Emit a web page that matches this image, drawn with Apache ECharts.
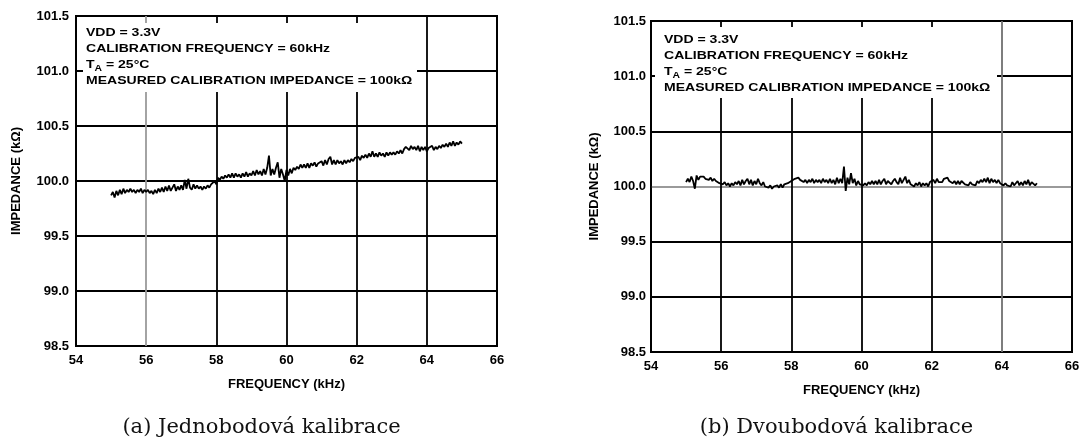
<!DOCTYPE html>
<html>
<head>
<meta charset="utf-8">
<script src="https://cdn.jsdelivr.net/npm/echarts@6/dist/echarts.min.js"></script>
<style>
html,body{margin:0;padding:0;background:#fff;}
#chart{width:1084px;height:442px;}
</style>
</head>
<body>
<div id="chart"></div>
<script>
// ---- data ----
const freqStart = 55.0;
const freqStep = 0.05;
const xTicks = [54, 56, 58, 60, 62, 64, 66];
const yTicks = [98.5, 99.0, 99.5, 100.0, 100.5, 101.0, 101.5];
// (a) single-point calibration
const leftValues = [
  99.87, 99.90, 99.85, 99.91, 99.87, 99.92, 99.88, 99.93, 99.89, 99.92, 99.90, 99.93, 99.90, 99.92, 99.89, 99.92, 99.90, 99.93, 99.89, 99.92,
  99.90, 99.92, 99.89, 99.91, 99.88, 99.92, 99.89, 99.93, 99.90, 99.94, 99.90, 99.95, 99.91, 99.96, 99.91, 99.94, 99.97, 99.91, 99.95, 99.92,
  99.96, 99.92, 100.01, 99.93, 100.02, 99.94, 99.92, 99.97, 99.93, 99.96, 99.93, 99.95, 99.92, 99.95, 99.93, 99.96, 99.94, 99.97, 99.96, 100.00,
  99.97, 100.03, 100.01, 100.04, 100.02, 100.05, 100.03, 100.06, 100.03, 100.07, 100.03, 100.07, 100.04, 100.06, 100.03, 100.07, 100.04, 100.08, 100.04, 100.07,
  100.05, 100.09, 100.05, 100.10, 100.06, 100.09, 100.05, 100.11, 100.06, 100.12, 100.23, 100.05, 100.11, 100.06, 100.12, 100.17, 100.03, 100.11, 100.06, 100.00,
  100.10, 100.05, 100.11, 100.07, 100.12, 100.10, 100.13, 100.11, 100.15, 100.12, 100.15, 100.12, 100.16, 100.12, 100.16, 100.14, 100.17, 100.13, 100.16, 100.15,
  100.18, 100.14, 100.19, 100.15, 100.20, 100.22, 100.15, 100.19, 100.15, 100.19, 100.16, 100.18, 100.15, 100.19, 100.16, 100.19, 100.17, 100.20, 100.18, 100.21,
  100.20, 100.22, 100.19, 100.23, 100.21, 100.24, 100.21, 100.25, 100.22, 100.27, 100.22, 100.25, 100.22, 100.26, 100.23, 100.25, 100.22, 100.26, 100.23, 100.26,
  100.24, 100.26, 100.24, 100.27, 100.25, 100.28, 100.25, 100.29, 100.31, 100.32, 100.28, 100.32, 100.29, 100.31, 100.28, 100.32, 100.27, 100.31, 100.28, 100.31,
  100.27, 100.30, 100.29, 100.32, 100.28, 100.31, 100.29, 100.32, 100.30, 100.33, 100.31, 100.34, 100.31, 100.35, 100.32, 100.36, 100.32, 100.35, 100.33, 100.36,
  100.34
];
// (b) two-point calibration
const rightValues = [
  100.04, 100.07, 100.04, 100.09, 100.05, 99.98, 100.10, 100.06, 100.09, 100.08, 100.09, 100.07, 100.08, 100.06, 100.08, 100.05, 100.07, 100.05, 100.06, 100.03,
  100.04, 100.02, 100.04, 100.01, 100.03, 100.00, 100.03, 100.01, 100.04, 100.02, 100.05, 100.01, 100.06, 100.02, 100.05, 100.07, 100.02, 100.06, 100.01, 100.05,
  100.02, 100.07, 100.03, 100.01, 100.04, 100.00, 100.01, 99.99, 100.01, 99.98, 100.00, 99.99, 100.01, 99.99, 100.02, 99.99, 100.02, 100.01, 100.03, 100.02,
  100.05, 100.04, 100.07, 100.06, 100.08, 100.06, 100.07, 100.04, 100.06, 100.03, 100.06, 100.04, 100.07, 100.03, 100.06, 100.04, 100.06, 100.03, 100.07, 100.04,
  100.06, 100.03, 100.07, 100.03, 100.06, 100.02, 100.08, 100.03, 100.07, 100.03, 100.18, 99.96, 100.08, 100.02, 100.12, 100.03, 100.07, 100.01, 100.05, 100.02,
  100.03, 100.01, 100.03, 100.01, 100.04, 100.02, 100.05, 100.02, 100.05, 100.02, 100.06, 100.02, 100.05, 100.07, 100.02, 100.05, 100.06, 100.02, 100.05, 100.07,
  100.04, 100.02, 100.08, 100.03, 100.06, 100.09, 100.03, 100.06, 100.02, 100.02, 100.00, 100.03, 100.01, 100.04, 100.00, 100.03, 100.01, 100.03, 100.00, 100.04,
  100.03, 100.06, 100.03, 100.07, 100.04, 100.05, 100.04, 100.07, 100.06, 100.08, 100.05, 100.06, 100.03, 100.05, 100.02, 100.05, 100.02, 100.05, 100.04, 100.02,
  100.03, 100.01, 100.04, 100.02, 100.03, 100.01, 100.05, 100.03, 100.06, 100.04, 100.07, 100.04, 100.08, 100.03, 100.07, 100.04, 100.06, 100.03, 100.06, 100.03,
  100.04, 100.01, 100.03, 100.01, 100.02, 100.00, 100.04, 100.01, 100.03, 100.05, 100.01, 100.04, 100.01, 100.05, 100.02, 100.06, 100.01, 100.04, 100.05, 100.01,
  100.03
];
const xTitle = 'FREQUENCY (kHz)';
const yTitle = 'IMPEDANCE (kΩ)';
const noteLines = ['VDD = 3.3V', 'CALIBRATION FREQUENCY = 60kHz', '{n|T}{s|A}{n| = 25°C}', 'MEASURED CALIBRATION IMPEDANCE = 100kΩ'];
const captions = ['(a) Jednobodová kalibrace', '(b) Dvoubodová kalibrace'];

// ---- build ----
const toPairs = vals => vals.map((v, i) => [+(freqStart + i * freqStep).toFixed(2), v]);
const FONT = 'Liberation Sans, Arial, sans-serif';
const labelStyle = { fontFamily: FONT, fontWeight: 'bold', fontSize: 13, color: '#000' };

function xAxisFor(gi, splitColors) {
  return {
    gridIndex: gi, type: 'value', min: xTicks[0], max: xTicks[xTicks.length - 1], interval: 2,
    axisLine: { show: false }, axisTick: { show: false },
    axisLabel: Object.assign({ margin: 8, formatter: v => String(v) }, labelStyle),
    splitLine: { show: true, showMinLine: true, showMaxLine: true, lineStyle: { color: splitColors, width: 1.8 } },
    name: xTitle, nameLocation: 'middle', nameGap: 32,
    nameTextStyle: Object.assign({}, labelStyle)
  };
}
function yAxisFor(gi, splitColors, gap, lblMargin) {
  return {
    gridIndex: gi, type: 'value', min: yTicks[0], max: yTicks[yTicks.length - 1], interval: 0.5,
    axisLine: { show: false }, axisTick: { show: false },
    axisLabel: Object.assign({ margin: lblMargin, formatter: v => v.toFixed(1) }, labelStyle),
    splitLine: { show: true, showMinLine: true, showMaxLine: true, lineStyle: { color: splitColors, width: 1.8 } },
    name: yTitle, nameLocation: 'middle', nameGap: gap,
    nameTextStyle: Object.assign({}, labelStyle)
  };
}

const noteRich = {
  n: { fontFamily: FONT, fontWeight: 'bold', fontSize: 11.5, lineHeight: 16, verticalAlign: 'middle', fill: '#000' },
  s: { fontFamily: FONT, fontWeight: 'bold', fontSize: 8.5, lineHeight: 8, verticalAlign: 'bottom', fill: '#000' }
};
function noteGraphic(boxX, boxY, boxW, boxH, tx, ty) {
  return [
    { type: 'rect', shape: { x: boxX, y: boxY, width: boxW, height: boxH }, style: { fill: '#fff' }, z: 50, silent: true },
    { type: 'text', x: tx, y: ty, scaleX: 1.22, z: 51, silent: true,
      style: { text: noteLines.join('\n'), fontFamily: FONT, fontWeight: 'bold', fontSize: 11.5, lineHeight: 16,
               fill: '#000', textVerticalAlign: 'top', rich: noteRich } }
  ];
}

const chart = echarts.init(document.getElementById('chart'), null, { renderer: 'canvas' });
chart.setOption({
  backgroundColor: '#fff',
  animation: false,
  grid: [
    { left: 76, top: 16, width: 421, height: 330, show: true, borderColor: '#000', borderWidth: 2, backgroundColor: 'transparent' },
    { left: 651, top: 21, width: 421, height: 331, show: true, borderColor: '#000', borderWidth: 2, backgroundColor: 'transparent' }
  ],
  xAxis: [
    xAxisFor(0, ['#000', '#9a9a9a', '#000', '#000', '#000', '#000', '#000']),
    xAxisFor(1, ['#000', '#000', '#000', '#000', '#000', '#707070', '#000'])
  ],
  yAxis: [
    yAxisFor(0, ['#000'], 53, 7),
    yAxisFor(1, ['#000', '#000', '#000', '#9a9a9a', '#000', '#000', '#000'], 50, 5)
  ],
  series: [
    { type: 'line', xAxisIndex: 0, yAxisIndex: 0, data: toPairs(leftValues), showSymbol: false, symbol: 'none',
      lineStyle: { color: '#000', width: 1.8 }, z: 60 },
    { type: 'line', xAxisIndex: 1, yAxisIndex: 1, data: toPairs(rightValues), showSymbol: false, symbol: 'none',
      lineStyle: { color: '#000', width: 1.8 }, z: 60 }
  ],
  graphic: [].concat(
    noteGraphic(83, 23, 334, 69, 86, 25),
    noteGraphic(655, 27, 342, 71, 664, 32),
    [
      { type: 'text', x: 261.5, y: 428, silent: true,
        style: { text: captions[0], fontFamily: 'DejaVu Serif, serif', fontSize: 21, fill: '#111', textAlign: 'center', textVerticalAlign: 'middle' } },
      { type: 'text', x: 836.5, y: 428, silent: true,
        style: { text: captions[1], fontFamily: 'DejaVu Serif, serif', fontSize: 21, fill: '#111', textAlign: 'center', textVerticalAlign: 'middle' } }
    ]
  )
});
</script>
</body>
</html>
